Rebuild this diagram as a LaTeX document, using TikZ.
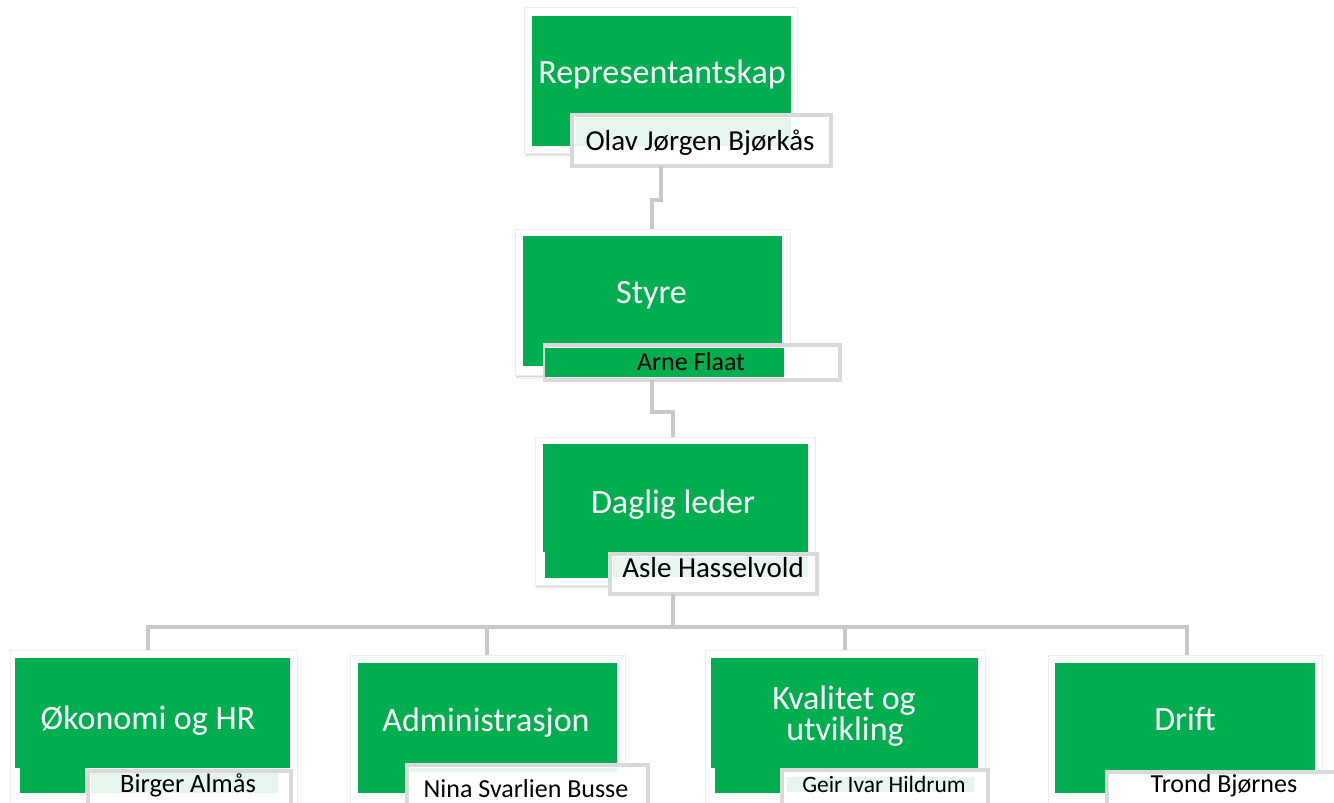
\documentclass[tikz,border=0pt]{standalone}
\usepackage{fontspec}
\setmainfont{Carlito}
\usetikzlibrary{fit,shadows}
\definecolor{boxgreen}{RGB}{0,173,79}
\definecolor{lblgray}{RGB}{217,217,217}
\definecolor{linegray}{RGB}{200,200,200}
\definecolor{tint}{RGB}{230,246,236}
\tikzset{
  frame/.style={fill=white, draw=black!7, line width=0.6pt, inner sep=0pt, outer sep=0pt,
    drop shadow={shadow xshift=0.5pt, shadow yshift=-2pt, opacity=0.10, fill=black},
    drop shadow={shadow xshift=1pt, shadow yshift=-4pt, opacity=0.06, fill=black}},
  greenbox/.style={fill=boxgreen, draw=none, inner sep=0pt, outer sep=0pt},
  lbl/.style={fill=white, draw=lblgray, line width=4pt, inner sep=-2pt, outer sep=0pt},
  tintbox/.style={fill=tint, draw=none, inner sep=0pt, outer sep=0pt},
  title/.style={text=white, anchor=base, inner sep=0pt, font=\fontsize{34}{40}\selectfont},
  nametxt/.style={text=black, anchor=base, inner sep=0pt, font=\fontsize{#1}{32}\selectfont},
  nametxt/.default=29,
  conn/.style={draw=linegray, line width=4pt}
}
\begin{document}
\begin{tikzpicture}[x=1pt,y=-1pt]
\useasboundingbox (0,0) rectangle (1334,803);
% ---------- Representantskap
\node[frame, fit={(524,7)(797,153)}] (repF) {};
\node[greenbox, fit={(532,16)(791,146)}] (repG) {};
\node[title] (repT) at (662,83) {Representantskap};
\node[lbl, fit={(570,113)(833,168)}] (repL) {};
\node[tintbox, fit={(575,118)(791,146)}] (repLt) {};
\node[nametxt] (repN) at (700,150) {Olav Jørgen Bjørkås};
% ---------- Styre
\node[frame, fit={(515,229)(790,375)}] (styF) {};
\node[greenbox, fit={(523,236)(782,366)}] (styG) {};
\node[title] (styT) at (651.5,303) {Styre};
\node[lbl, fit={(543,343)(842,382)}] (styL) {};
\node[greenbox, fit={(545,348)(784,377)}] (styLg) {};
\node[nametxt=26] (styN) at (691,370) {Arne Flaat};
% ---------- Daglig leder
\node[frame, fit={(535,437)(815,585)}] (dlF) {};
\node[greenbox, fit={(543,444)(808,552)}] (dlG) {};
\node[greenbox, fit={(545,552)(608,578)}] (dlG2) {};
\node[title] (dlT) at (673,513) {Daglig leder};
\node[lbl, fit={(608,552)(819,596)}] (dlL) {};
\node[tintbox, fit={(613,557)(808,577)}] (dlLt) {};
\node[nametxt] (dlN) at (713,577) {Asle Hasselvold};
% ---------- Okonomi og HR
\node[frame, fit={(10,650)(297,806)}] (okF) {};
\node[greenbox, fit={(15,658)(290,768)}] (okG) {};
\node[greenbox, fit={(20,768)(85,793)}] (okG2) {};
\node[title] (okT) at (148,729) {Økonomi og HR};
\node[lbl, fit={(86,769)(293,812)}] (okL) {};
\node[tintbox, fit={(91,773)(278,793)}] (okLt) {};
\node[nametxt=26.5] (okN) at (188,792) {Birger Almås};
% ---------- Administrasjon
\node[frame, fit={(350,655)(625,806)}] (adF) {};
\node[greenbox, fit={(358,663)(617,793)}] (adG) {};
\node[title] (adT) at (486,731) {Administrasjon};
\node[lbl, fit={(405,763)(650,812)}] (adL) {};
\node[tintbox, fit={(410,768)(617,772)}] (adLt) {};
\node[nametxt=26] (adN) at (526,797) {Nina Svarlien Busse};
% ---------- Kvalitet og utvikling
\node[frame, fit={(705,650)(985,806)}] (kvF) {};
\node[greenbox, fit={(711,658)(978,768)}] (kvG) {};
\node[greenbox, fit={(715,768)(780,793)}] (kvG2) {};
\node[title] (kvT1) at (844,709) {Kvalitet og};
\node[title] (kvT2) at (845,740) {utvikling};
\node[lbl, fit={(780,768)(990,812)}] (kvL) {};
\node[tintbox, fit={(787,777)(974,792)}] (kvLt) {};
\node[nametxt=23.5] (kvN) at (884,792) {Geir Ivar Hildrum};
% ---------- Drift
\node[frame, fit={(1048,655)(1322,806)}] (drF) {};
\node[greenbox, fit={(1055,663)(1315,793)}] (drG) {};
\node[title] (drT) at (1185,730) {Drift};
\node[lbl, fit={(1105,770)(1345,812)}] (drL) {};
\node[nametxt=26] (drN) at (1224,792) {Trond Bjørnes};
% ---------- connectors
\coordinate (bus) at (673,627);
\draw[conn] (repL.south -| 661,0) -- (661,200) -- (652,200) -- (styF.north -| 652,0);
\draw[conn] (styL.south -| 652,0) -- (652,412) -- (673,412) -- (dlF.north -| 673,0);
\draw[conn] (dlL.south -| 673,0) -- (bus);
\draw[conn] (okF.north -| 148,0) -- (148,627) -- (1187,627) -- (drF.north -| 1187,0);
\draw[conn] (adF.north -| 487,0) -- (487,627);
\draw[conn] (kvF.north -| 845,0) -- (845,627);
\end{tikzpicture}
\end{document}
